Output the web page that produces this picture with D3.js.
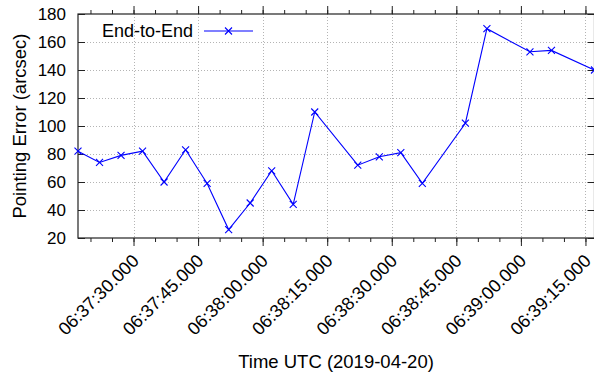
<!DOCTYPE html>
<html>
<head>
<meta charset="utf-8">
<script src="https://cdn.jsdelivr.net/npm/d3@7"></script>
<style>
  body { margin: 0; background: #fff; }
  text { font-family: "Liberation Sans", Arial, sans-serif; fill: #000; }
</style>
</head>
<body>
<script>
// sample times (UTC, 2019-04-20) and pointing error in arcsec
var times = ['06:37:17.1', '06:37:22.1', '06:37:27.1', '06:37:32.1', '06:37:37.1', '06:37:42.1',
  '06:37:47.1', '06:37:52.1', '06:37:57.1', '06:38:02.1', '06:38:07.1', '06:38:12.1',
  '06:38:22.1', '06:38:27.1', '06:38:32.1', '06:38:37.1', '06:38:47.1', '06:38:52.1',
  '06:39:02.1', '06:39:07.1', '06:39:17.1'];
var errors = [82, 74, 79, 82, 60, 83, 59, 26, 45, 68, 44, 110, 72, 78, 81, 59, 102, 169.5, 153, 154, 140];
var yTicks = [20, 40, 60, 80, 100, 120, 140, 160, 180];
var xTickLabels = ['06:37:30.000', '06:37:45.000', '06:38:00.000', '06:38:15.000',
  '06:38:30.000', '06:38:45.000', '06:39:00.000', '06:39:15.000'];
var seriesName = 'End-to-End';

var parse = d3.utcParse('%H:%M:%S.%L');
var data = times.map(function(t, i) { return { t: parse(t + '00'), v: errors[i] }; });
var tickDates = xTickLabels.map(function(s) { return parse(s); });

var W = 594, H = 374;
var pl = 78, pr = 594.5, pt = 14, pb = 238;

var svg = d3.select('body').append('svg').attr('width', W).attr('height', H);

var x = d3.scaleUtc().domain(d3.extent(data, function(d) { return d.t; })).range([pl, pr]);
var y = d3.scaleLinear().domain([20, 180]).range([pb, pt]);

// minor x ticks every 5 s
var minor = d3.utcSecond.every(5).range(x.domain()[0], x.domain()[1]);

// grid
var grid = svg.append('g').attr('stroke', '#b4b4b4').attr('stroke-dasharray', '1,2').attr('stroke-width', 1);
grid.selectAll('.gy').data(yTicks.slice(1, -1)).enter().append('line')
  .attr('x1', pl).attr('x2', pr)
  .attr('y1', function(d) { return Math.round(y(d)) + 0.5; })
  .attr('y2', function(d) { return Math.round(y(d)) + 0.5; });
grid.selectAll('.gx').data(tickDates).enter().append('line')
  .attr('y1', pt).attr('y2', pb)
  .attr('x1', function(d) { return Math.round(x(d)) + 0.5; })
  .attr('x2', function(d) { return Math.round(x(d)) + 0.5; });

// x axes (ticks outward, mirrored top)
var xFmt = d3.utcFormat('%H:%M:%S.%L');
var xb = svg.append('g').attr('transform', 'translate(0,' + pb + ')')
  .call(d3.axisBottom(x).tickValues(tickDates).tickSize(8).tickFormat(xFmt));
svg.append('g').attr('transform', 'translate(0,' + pb + ')')
  .call(d3.axisBottom(x).tickValues(minor).tickSize(4).tickFormat(''));
svg.append('g').attr('transform', 'translate(0,' + pt + ')')
  .call(d3.axisTop(x).tickValues(tickDates).tickSize(8).tickFormat(''));
svg.append('g').attr('transform', 'translate(0,' + pt + ')')
  .call(d3.axisTop(x).tickValues(minor).tickSize(4).tickFormat(''));

xb.selectAll('text')
  .attr('font-size', 18)
  .attr('text-anchor', 'end')
  .attr('dy', null)
  .attr('y', 0)
  .attr('transform', 'translate(6,24) rotate(-45)');

// y axes (ticks inward, mirrored right)
var yl = svg.append('g').attr('transform', 'translate(' + pl + ',0)')
  .call(d3.axisRight(y).tickValues(yTicks).tickSize(7));
yl.selectAll('text').attr('x', -12).attr('text-anchor', 'end').attr('font-size', 17);
svg.append('g').attr('transform', 'translate(' + pr + ',0)')
  .call(d3.axisLeft(y).tickValues(yTicks).tickSize(7).tickFormat(''));

svg.selectAll('.domain').attr('stroke', 'none');
svg.selectAll('.tick line').attr('stroke', '#222');
svg.selectAll('.tick text').attr('font-family', '"Liberation Sans", Arial, sans-serif').attr('fill', '#000');

// border
svg.append('rect').attr('x', pl).attr('y', pt).attr('width', pr - pl).attr('height', pb - pt)
  .attr('fill', 'none').attr('stroke', '#222').attr('stroke-width', 1.2);

// series
var line = d3.line().x(function(d) { return x(d.t); }).y(function(d) { return y(d.v); });
svg.append('path').datum(data).attr('d', line)
  .attr('fill', 'none').attr('stroke', '#0000ff').attr('stroke-width', 1.1);

var cross = function(sel, s) {
  sel.append('path')
    .attr('d', 'M' + (-s) + ',' + (-s) + 'L' + s + ',' + s + 'M' + (-s) + ',' + s + 'L' + s + ',' + (-s))
    .attr('stroke', '#0000ff').attr('stroke-width', 1.1).attr('fill', 'none');
};
svg.append('g').selectAll('g').data(data).enter().append('g')
  .attr('transform', function(d) { return 'translate(' + x(d.t) + ',' + y(d.v) + ')'; })
  .call(cross, 3.5);

// legend
var lg = svg.append('g');
lg.append('text').attr('x', 193).attr('y', 37).attr('text-anchor', 'end').attr('font-size', 18).text(seriesName);
lg.append('line').attr('x1', 204).attr('x2', 253).attr('y1', 31).attr('y2', 31)
  .attr('stroke', '#0000ff').attr('stroke-width', 1.1);
lg.append('g').attr('transform', 'translate(228.5,31)').call(cross, 3.5);

// axis titles
svg.append('text').attr('x', 336).attr('y', 368).attr('text-anchor', 'middle').attr('font-size', 18.5)
  .text('Time UTC (2019-04-20)');
svg.append('text').attr('transform', 'translate(25.5,126) rotate(-90)').attr('text-anchor', 'middle')
  .attr('font-size', 18.5).text('Pointing Error (arcsec)');
</script>
</body>
</html>
